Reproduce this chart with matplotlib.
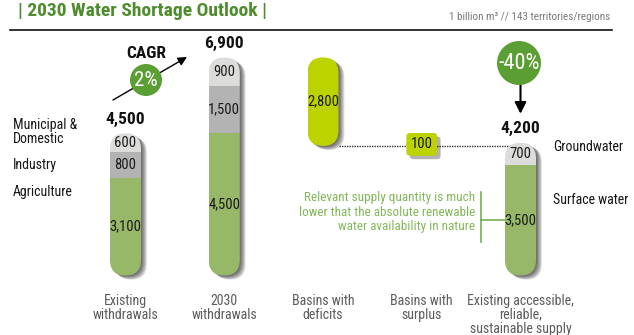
import numpy as np
import matplotlib
matplotlib.use("Agg")
import matplotlib.pyplot as plt
from matplotlib import font_manager as fm
from matplotlib import patheffects
from matplotlib.patches import FancyBboxPatch, Ellipse
from matplotlib.transforms import offset_copy
from matplotlib.lines import Line2D

# ---------------------------------------------------------------- data
stage_labels = ["Existing\nwithdrawals", "2030\nwithdrawals", "Basins with\ndeficits",
                "Basins with\nsurplus", "Existing accessible,\nreliable,\nsustainable supply"]
sector_labels = ["Agriculture", "Industry", "Municipal &\nDomestic"]
existing_withdrawals = [3100, 800, 600]
withdrawals_2030 = [4500, 1500, 900]
deficit_basins = 2800
surplus_basins = 100
supply_labels = ["Surface water", "Groundwater"]
existing_supply = [3500, 700]
cagr_text = "2%"
gap_text = "-40%"
title_text = "| 2030 Water Shortage Outlook |"
units_text = "1 billion m\u00b3 // 143 territories/regions"
note_text = ("Relevant supply quantity is much\n"
             "lower that the absolute renewable\n"
             "water availability in nature")

# ---------------------------------------------------------------- style
W, H, DPI = 634, 335, 100
AGRI = "#97b868"
IND = "#b3b3b3"
MUNI = "#dcdcda"
LIME = "#bdd300"
CIRCLE = "#5b9e33"
TITLE = "#4e8c2e"
NOTE = "#82b85a"
GREY_TXT = "#5c5c5c"
sector_colors = [AGRI, IND, MUNI]
supply_colors = [AGRI, MUNI]


def find_font(bold):
    prefs = [("Roboto Condensed", None), ("Roboto", "condensed"),
             ("Liberation Sans Narrow", None), ("Open Sans Condensed", None),
             ("Open Sans", "condensed"), ("Noto Sans", "condensed"),
             ("DejaVu Sans", "condensed")]
    for name, stretch in prefs:
        hits = []
        for f in fm.fontManager.ttflist:
            if f.name != name or f.style != "normal":
                continue
            if stretch and f.stretch != stretch:
                continue
            w = f.weight if isinstance(f.weight, (int, float)) else fm.weight_dict.get(f.weight, 400)
            if bold and 600 <= w <= 750 or (not bold and 380 <= w <= 450):
                bad = any(k in f.fname for k in ("Semi", "Extra", "Ultra"))
                hits.append((bad, f.fname))
        if hits:
            return sorted(hits)[0][1]
    return None


REG = find_font(False)
BLD = find_font(True)


def font(size, bold=False):
    path = BLD if bold else REG
    if path:
        return fm.FontProperties(fname=path, size=size)
    return fm.FontProperties(family="DejaVu Sans", weight="bold" if bold else "normal",
                             size=size * 0.84)


def P(x, y):
    """pixel position measured from the top-left corner -> figure fraction"""
    return (x / W, 1 - y / H)


# ---------------------------------------------------------------- canvas
fig = plt.figure(figsize=(W / DPI, H / DPI), dpi=DPI)
fig.patch.set_facecolor("white")
ax = fig.add_axes([0, 0, 1, 1])
ax.axis("off")

X0_PX, DX_PX = 125.5, 98.75          # centre of first column, column pitch
BASE_PX, PX_PER_UNIT = 59.5, 0.0316  # baseline above bottom edge, value scale
ax.set_xlim(-X0_PX / DX_PX, (W - X0_PX) / DX_PX)
ax.set_ylim(-BASE_PX / PX_PER_UNIT, (H - BASE_PX) / PX_PER_UNIT)

BW = 31 / DX_PX
ASPECT = (1 / PX_PER_UNIT) / (1 / DX_PX)
X = np.arange(len(stage_labels))


def data_to_fig(x, y):
    return fig.transFigure.inverted().transform(ax.transData.transform((x, y)))


def pill(x, y0, h, transform=None, **kw):
    p = FancyBboxPatch((x - BW / 2, y0), BW, h,
                       boxstyle=f"round,pad=0,rounding_size={BW / 2}",
                       mutation_aspect=ASPECT,
                       transform=transform if transform is not None else ax.transData, **kw)
    return p


def shadow(x, y0, h):
    for d in range(1, 8):
        tr = offset_copy(ax.transData, fig=fig, x=d * 0.85, y=-d * 0.6, units="dots")
        ax.add_patch(pill(x, y0, h, transform=tr, fc="black", ec="none",
                          alpha=0.11, zorder=1))


def value_label(x, y, v):
    ax.text(x, y, f"{v:,}", ha="center", va="center", color="#1a1a1a",
            fontproperties=font(10.5), zorder=6)


def stacked_pill(x, values, colors, y0=0):
    total = sum(values)
    shadow(x, y0, total)
    outline = pill(x, y0, total, fc="none", ec="none")
    ax.add_patch(outline)
    bottoms = y0 + np.concatenate([[0], np.cumsum(values)[:-1]])
    bars = ax.bar([x] * len(values), values, bottom=bottoms, width=BW,
                  color=colors, linewidth=0, zorder=3)
    for r in bars:
        r.set_clip_path(outline)
    for b, v in zip(bottoms, values):
        value_label(x, b + v / 2, v)
    return total


def total_label(x, top, v):
    ax.annotate(f"{v:,}", xy=(x, top), xytext=(0, 14), textcoords="offset pixels",
                ha="center", va="center", color="#111111",
                fontproperties=font(12.5, bold=True), zorder=6)


# ---------------------------------------------------------------- bars
t0 = stacked_pill(X[0], existing_withdrawals, sector_colors)
total_label(X[0], t0, t0)
t1 = stacked_pill(X[1], withdrawals_2030, sector_colors)
total_label(X[1], t1, t1)

gap_level = t1 - deficit_basins
stacked_pill(X[2], [deficit_basins], [LIME], y0=gap_level)

t4 = stacked_pill(X[4], existing_supply, supply_colors)
total_label(X[4], t4, t4)

# connector between the deficit bar and the supply bar
ax.plot([X[2] + BW / 2, X[4]], [gap_level, gap_level], ls=(0, (1, 0.8)),
        lw=1.0, color="#333333", zorder=2)

# surplus basins: a thin bar with a boxed value label
ax.bar(X[3], surplus_basins, bottom=gap_level, width=BW, color=LIME,
       linewidth=0, zorder=3)
sl = ax.text(X[3], gap_level + surplus_basins / 2, f"{surplus_basins:,}",
             ha="center", va="center", color="#1a1a1a", fontproperties=font(10.5),
             zorder=7,
             bbox=dict(boxstyle="round,pad=0.3,rounding_size=0.25", fc=LIME, ec="none"))
sl.get_bbox_patch().set_path_effects([
    patheffects.SimplePatchShadow(offset=(2.5, -2.5), shadow_rgbFace="black", alpha=0.3),
    patheffects.Normal()])

# ---------------------------------------------------------------- header
fig.text(*P(18, 16), title_text, ha="left", va="baseline", color=TITLE,
         fontproperties=font(14, bold=True))
fig.text(*P(610, 17), units_text, ha="right", va="center", color="#7a7a7a",
         fontproperties=font(8))
fig.add_artist(Line2D([10 / W, 612 / W], [1 - 30 / H] * 2, transform=fig.transFigure,
                      color="#111111", lw=1.2))

# ---------------------------------------------------------------- category labels
for x, lab in zip(X, stage_labels):
    cx = data_to_fig(x, 0)[0]
    fig.text(cx, 1 - 294 / H, lab, ha="center", va="top", color=GREY_TXT,
             fontproperties=font(10), linespacing=0.98)

left_pos = {"Municipal &\nDomestic": 132, "Industry": 165, "Agriculture": 192}
for lab in sector_labels:
    fig.text(*P(13, left_pos[lab]), lab, ha="left", va="center", color="#161616",
             fontproperties=font(10), linespacing=1.0)

right_pos = {"Groundwater": 147, "Surface water": 200}
for lab in supply_labels:
    fig.text(*P(553, right_pos[lab]), lab, ha="left", va="center", color="#161616",
             fontproperties=font(10))

# ---------------------------------------------------------------- CAGR callout
fig.text(*P(146, 53), "CAGR", ha="center", va="center", color="#111111",
         fontproperties=font(12.5, bold=True))
ax.annotate("", xy=P(187, 57), xytext=P(113, 100),
            xycoords="figure fraction", textcoords="figure fraction",
            arrowprops=dict(arrowstyle="-|>", color="black", lw=1.0,
                            mutation_scale=13, shrinkA=0, shrinkB=0), zorder=4)
fig.add_artist(Ellipse(P(146, 80), 32 / W, 32 / H, transform=fig.transFigure,
                       fc=CIRCLE, ec="none", zorder=5))
fig.text(*P(146, 80.5), cagr_text, ha="center", va="center", color="white",
         fontproperties=font(15), zorder=6)

# ---------------------------------------------------------------- supply gap callout
top_fig = data_to_fig(X[4], t4)
tip_y = top_fig[1] + 29 / H
fig.add_artist(Ellipse(P(519, 63), 44 / W, 44 / H, transform=fig.transFigure,
                       fc=CIRCLE, ec="none", zorder=5))
fig.text(*P(519, 63.5), gap_text, ha="center", va="center", color="white",
         fontproperties=font(16), zorder=6)
ax.annotate("", xy=(top_fig[0], tip_y), xytext=(top_fig[0], 1 - 84 / H),
            xycoords="figure fraction", textcoords="figure fraction",
            arrowprops=dict(arrowstyle="-|>", color="black", lw=1.5,
                            mutation_scale=17, shrinkA=0, shrinkB=0), zorder=4)

# ---------------------------------------------------------------- note with bracket
fig.text(*P(475, 212), note_text, ha="right", va="center", color=NOTE,
         fontproperties=font(9.5), linespacing=1.12, multialignment="right")
attach = data_to_fig(X[4] - BW / 2, existing_supply[0] / 2)
fig.add_artist(Line2D([481 / W, 481 / W], [1 - 192 / H, 1 - 242 / H],
                      transform=fig.transFigure, color="#6aa842", lw=1.1))
fig.add_artist(Line2D([481 / W, attach[0]], [attach[1], attach[1]],
                      transform=fig.transFigure, color="#6aa842", lw=1.1))

fig.savefig("out.png", dpi=DPI, facecolor="white")
